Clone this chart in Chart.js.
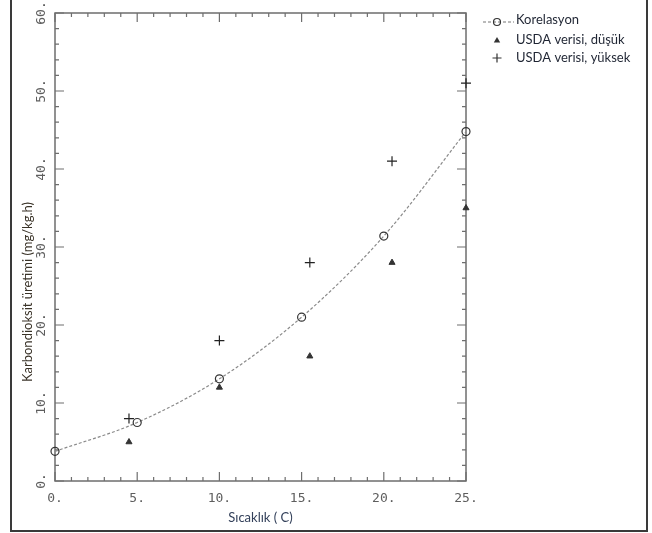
<!DOCTYPE html>
<html>
<head>
<meta charset="utf-8">
<script src="https://cdn.jsdelivr.net/npm/chart.js@4.4.1/dist/chart.umd.min.js"></script>
<style>
  html, body { margin: 0; padding: 0; background: #fff; }
  #wrap { position: relative; width: 652px; height: 533px; }
  #frame { position: absolute; left: 10px; top: 0; width: 638px; height: 532px; border: 2px solid #3a3a3a; border-top: none; box-sizing: border-box; pointer-events: none; }
  canvas { position: absolute; left: 0; top: 0; }
</style>
</head>
<body>
<div id="wrap">
  <canvas id="chart" width="652" height="533"></canvas>
  <div id="frame"></div>
</div>
<script>
// correlation curve (circles)
const corrX = [0, 5, 10, 15, 20, 25];
const corrY = [3.8, 7.5, 13.1, 21, 31.4, 44.8];
// USDA measurements
const usdaX = [4.5, 10, 15.5, 20.5, 25];
const usdaLow = [5, 12, 16, 28, 35];
const usdaHigh = [8, 18, 28, 41, 51];

const xTicks = [0, 5, 10, 15, 20, 25];
const yTicks = [0, 10, 20, 30, 40, 50, 60];
const seriesNames = ['Korelasyon', 'USDA verisi, düşük', 'USDA verisi, yüksek'];
const xTitle = 'Sıcaklık ( C)';
const yTitle = 'Karbondioksit üretimi (mg/kg.h)';

const tickFont = '13px "DejaVu Sans Mono"';
const tickColor = '#5e5e5e';
const axisColor = '#6e6e6e';

function toPoints(xs, ys) {
    return xs.map((x, i) => ({x: x, y: ys[i]}));
}

// box around the plot with inward ticks on all four sides
const boxPlugin = {
    id: 'box',
    beforeDatasetsDraw(chart) {
        const {ctx, chartArea: a, scales} = chart;
        const xs = scales.x, ys = scales.y;
        ctx.save();
        ctx.strokeStyle = axisColor;
        ctx.lineWidth = 1.5;
        ctx.strokeRect(a.left, a.top, a.right - a.left, a.bottom - a.top);
        ctx.lineWidth = 1.2;
        ctx.beginPath();
        for (let v = xs.min; v <= xs.max; v += 1) {
            const px = xs.getPixelForValue(v);
            const len = v % 5 === 0 ? 9 : 4;
            ctx.moveTo(px, a.bottom); ctx.lineTo(px, a.bottom - len);
            ctx.moveTo(px, a.top); ctx.lineTo(px, a.top + len);
        }
        for (let v = ys.min; v <= ys.max; v += 2) {
            const py = ys.getPixelForValue(v);
            const len = v % 10 === 0 ? 9 : 4;
            ctx.moveTo(a.left, py); ctx.lineTo(a.left + len, py);
            ctx.moveTo(a.right, py); ctx.lineTo(a.right - len, py);
        }
        ctx.stroke();
        ctx.restore();
    },
    afterDraw(chart) {
        const {ctx, scales} = chart;
        const ys = scales.y;
        ctx.save();
        // rotated y tick labels
        ctx.font = tickFont;
        ctx.fillStyle = tickColor;
        ctx.textAlign = 'center';
        ctx.textBaseline = 'middle';
        yTicks.forEach(v => {
            ctx.save();
            ctx.translate(42, ys.getPixelForValue(v));
            ctx.rotate(-Math.PI / 2);
            ctx.fillText(v + '.', 0, 0);
            ctx.restore();
        });
        // y title
        ctx.save();
        ctx.translate(28, 292);
        ctx.rotate(-Math.PI / 2);
        ctx.font = '13px Lato';
        ctx.fillStyle = '#3a3328';
        ctx.fillText(yTitle, 0, 0);
        ctx.restore();

        // legend
        ctx.font = '13px Lato';
        ctx.fillStyle = '#1f2533';
        ctx.textAlign = 'left';
        const rows = [20, 40, 58];
        const sx = 497, tx = 516;
        ctx.strokeStyle = '#777';
        ctx.lineWidth = 1;
        ctx.setLineDash([3, 2]);
        ctx.beginPath();
        ctx.moveTo(483, rows[0] + 2); ctx.lineTo(514, rows[0] + 2);
        ctx.stroke();
        ctx.setLineDash([]);
        ctx.strokeStyle = '#333';
        ctx.lineWidth = 1.2;
        ctx.beginPath();
        ctx.arc(sx, rows[0] + 2, 3.5, 0, Math.PI * 2);
        ctx.stroke();
        ctx.fillStyle = '#333';
        ctx.beginPath();
        ctx.moveTo(sx, rows[1] - 3); ctx.lineTo(sx + 3.2, rows[1] + 2.5); ctx.lineTo(sx - 3.2, rows[1] + 2.5);
        ctx.closePath(); ctx.fill();
        ctx.beginPath();
        ctx.moveTo(sx - 4.5, rows[2]); ctx.lineTo(sx + 4.5, rows[2]);
        ctx.moveTo(sx, rows[2] - 4.5); ctx.lineTo(sx, rows[2] + 4.5);
        ctx.stroke();
        ctx.fillStyle = '#1f2533';
        seriesNames.forEach((name, i) => ctx.fillText(name, tx, rows[i]));
        ctx.restore();
    }
};

const ctx = document.getElementById('chart').getContext('2d');
new Chart(ctx, {
    type: 'scatter',
    data: {
        datasets: [
            {
                label: seriesNames[0],
                data: toPoints(corrX, corrY),
                showLine: true,
                cubicInterpolationMode: 'monotone',
                borderColor: '#8a8a8a',
                borderWidth: 1.2,
                borderDash: [3, 2],
                pointStyle: 'circle',
                pointRadius: 4,
                pointBorderColor: '#333',
                pointBorderWidth: 1.2,
                pointBackgroundColor: 'rgba(255,255,255,0)',
                clip: false
            },
            {
                label: seriesNames[1],
                data: toPoints(usdaX, usdaLow),
                showLine: false,
                pointStyle: 'triangle',
                pointRadius: 3.5,
                pointBorderColor: '#333',
                pointBackgroundColor: '#333',
                pointBorderWidth: 1,
                clip: false
            },
            {
                label: seriesNames[2],
                data: toPoints(usdaX, usdaHigh),
                showLine: false,
                pointStyle: 'cross',
                pointRadius: 5,
                pointBorderColor: '#222',
                pointBorderWidth: 1.2,
                clip: false
            }
        ]
    },
    options: {
        responsive: false,
        animation: false,
        layout: {
            autoPadding: false,
            padding: {left: 0, top: 13, right: 186, bottom: 0}
        },
        plugins: {
            legend: {display: false},
            tooltip: {enabled: false}
        },
        scales: {
            x: {
                type: 'linear',
                min: 0,
                max: 25,
                afterBuildTicks: scale => { scale.ticks = xTicks.map(v => ({value: v})); },
                afterFit: scale => { scale.height = 52; },
                grid: {display: false, drawTicks: false, tickLength: 0},
                border: {display: false},
                ticks: {
                    padding: 10,
                    color: tickColor,
                    font: {family: 'DejaVu Sans Mono', size: 13},
                    maxRotation: 0,
                    callback: v => v + '.'
                },
                title: {
                    display: true,
                    text: xTitle,
                    color: '#33405a',
                    font: {family: 'Lato', size: 13},
                    padding: {top: 0, bottom: 7}
                }
            },
            y: {
                type: 'linear',
                min: 0,
                max: 60,
                afterFit: scale => { scale.width = 55; },
                grid: {display: false, drawTicks: false},
                border: {display: false},
                ticks: {display: false, stepSize: 10}
            }
        }
    },
    plugins: [boxPlugin]
});
</script>
</body>
</html>
